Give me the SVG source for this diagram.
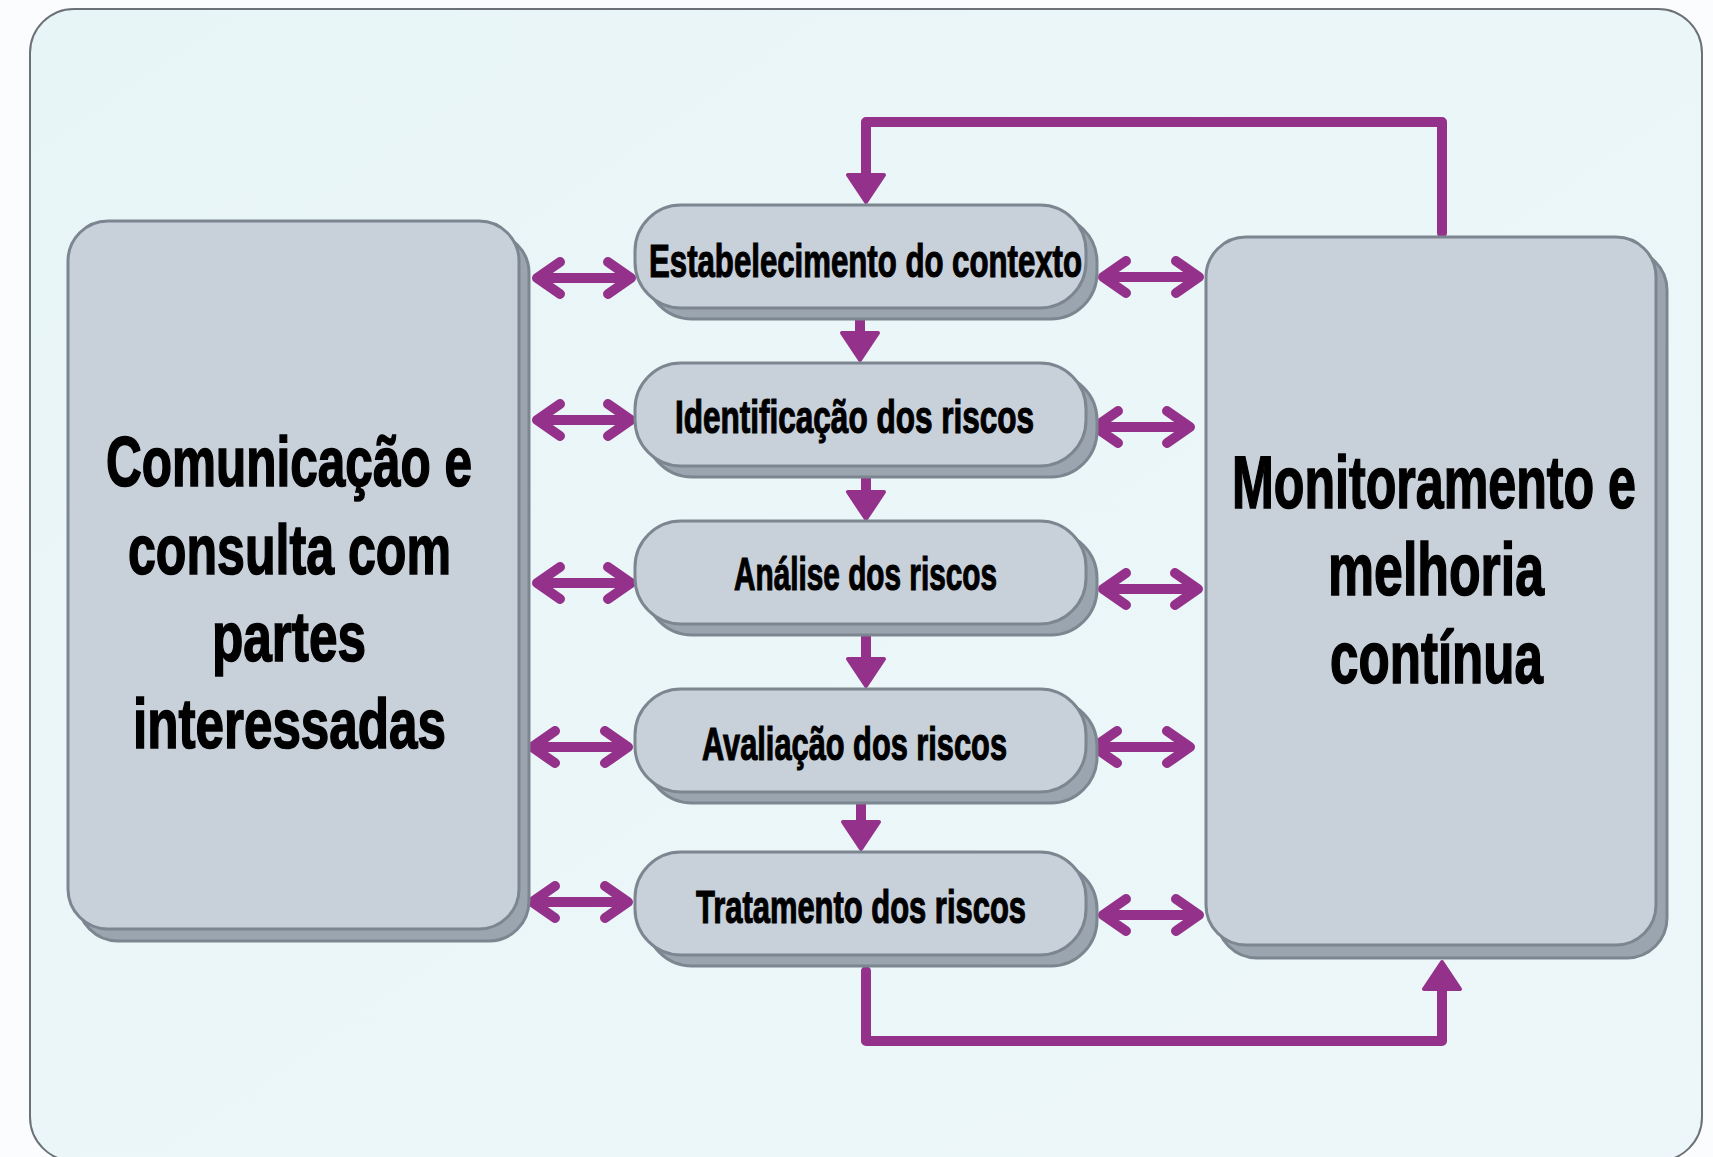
<svg xmlns="http://www.w3.org/2000/svg" width="1713" height="1157" viewBox="0 0 1713 1157">
<defs>
<linearGradient id="bg" x1="0" y1="0" x2="1" y2="1">
<stop offset="0" stop-color="#e8f5f7"/>
<stop offset="1" stop-color="#edf7f9"/>
</linearGradient>
<marker id="chev" viewBox="-30 -25 35 50" refX="0" refY="0" markerWidth="35" markerHeight="50" markerUnits="userSpaceOnUse" orient="auto-start-reverse" overflow="visible">
<path d="M-23,-16 L0,0 L-23,16" fill="none" stroke="#94318a" stroke-width="10" stroke-linecap="round" stroke-linejoin="round"/>
</marker>
<marker id="tri" viewBox="-2 -22 34 44" refX="0" refY="0" markerWidth="34" markerHeight="44" markerUnits="userSpaceOnUse" orient="auto" overflow="visible">
<path d="M0,-18 L27,0 L0,18 z" fill="#94318a" stroke="#94318a" stroke-width="4" stroke-linejoin="round"/>
</marker>
<style>
.front{fill:#c8d0da;stroke:#7c8690;stroke-width:3}
.shadow{fill:#9aa5b0;stroke:#7c8690;stroke-width:3}
.dbl{fill:none;stroke:#94318a;stroke-width:10;marker-start:url(#chev);marker-end:url(#chev)}
.flow{fill:none;stroke:#94318a;stroke-width:10;stroke-linejoin:round;stroke-linecap:round;marker-end:url(#tri)}
.down{fill:none;stroke:#94318a;stroke-width:10;marker-end:url(#tri)}
.t{font-family:"Liberation Sans Narrow","Liberation Sans",sans-serif;font-weight:bold;fill:#000;stroke:#000;stroke-width:1.2}
.ps{font-size:47px}
.big{font-size:70px;stroke-width:1.6}
.big2{font-size:74px;stroke-width:1.6}
</style>
</defs>
<rect x="0" y="0" width="1713" height="1157" fill="#fbfcfd"/>
<rect x="30" y="9" width="1672" height="1152" rx="44" fill="url(#bg)" stroke="#6b7177" stroke-width="2"/>

<g id="connectors">
<path class="flow" d="M1442,233 V122 H866 V175"/>
<path class="flow" d="M866,971 V1041 H1442 V989"/>
<path class="down" d="M860,300 V333"/>
<path class="down" d="M866,460 V492"/>
<path class="down" d="M866,620 V659"/>
<path class="down" d="M861,790 V822"/>
<path class="dbl" d="M537,278 H631"/>
<path class="dbl" d="M537,420 H631"/>
<path class="dbl" d="M537,583 H631"/>
<path class="dbl" d="M532,747 H628"/>
<path class="dbl" d="M532,902 H628"/>
<path class="dbl" d="M1103,277 H1199"/>
<path class="dbl" d="M1095,427 H1190"/>
<path class="dbl" d="M1103,589 H1198"/>
<path class="dbl" d="M1094,747 H1190"/>
<path class="dbl" d="M1103,915 H1199"/>
</g>

<g id="node-comunicacao">
<rect class="shadow" x="78" y="233" width="451" height="708" rx="40"/>
<rect class="front" x="68" y="221" width="451" height="708" rx="40"/>
<text class="t big" x="106" y="486" textLength="366" lengthAdjust="spacingAndGlyphs">Comunicação e</text>
<text class="t big" x="128" y="574" textLength="323" lengthAdjust="spacingAndGlyphs">consulta com</text>
<text class="t big" x="212" y="661" textLength="154" lengthAdjust="spacingAndGlyphs">partes</text>
<text class="t big" x="133" y="748" textLength="313" lengthAdjust="spacingAndGlyphs">interessadas</text>
</g>

<g id="node-monitoramento">
<rect class="shadow" x="1217" y="250" width="450" height="708" rx="40"/>
<rect class="front" x="1206" y="237" width="450" height="708" rx="40"/>
<text class="t big2" x="1232" y="508" textLength="404" lengthAdjust="spacingAndGlyphs">Monitoramento e</text>
<text class="t big2" x="1328" y="595" textLength="216" lengthAdjust="spacingAndGlyphs">melhoria</text>
<text class="t big2" x="1330" y="683" textLength="213" lengthAdjust="spacingAndGlyphs">contínua</text>
</g>

<g id="node-estabelecimento">
<rect class="shadow" x="646" y="216" width="451" height="103" rx="46"/>
<rect class="front" x="635" y="205" width="451" height="103" rx="46"/>
<text class="t ps" x="649" y="277" textLength="433" lengthAdjust="spacingAndGlyphs">Estabelecimento do contexto</text>
</g>

<g id="node-identificacao">
<rect class="shadow" x="646" y="374" width="451" height="103" rx="46"/>
<rect class="front" x="635" y="363" width="451" height="103" rx="46"/>
<text class="t ps" x="675" y="433" textLength="359" lengthAdjust="spacingAndGlyphs">Identificação dos riscos</text>
</g>

<g id="node-analise">
<rect class="shadow" x="646" y="532" width="451" height="103" rx="46"/>
<rect class="front" x="635" y="521" width="451" height="103" rx="46"/>
<text class="t ps" x="734" y="590" textLength="263" lengthAdjust="spacingAndGlyphs">Análise dos riscos</text>
</g>

<g id="node-avaliacao">
<rect class="shadow" x="646" y="700" width="451" height="103" rx="46"/>
<rect class="front" x="635" y="689" width="451" height="103" rx="46"/>
<text class="t ps" x="702" y="760" textLength="305" lengthAdjust="spacingAndGlyphs">Avaliação dos riscos</text>
</g>

<g id="node-tratamento">
<rect class="shadow" x="646" y="863" width="451" height="103" rx="46"/>
<rect class="front" x="635" y="852" width="451" height="103" rx="46"/>
<text class="t ps" x="696" y="923" textLength="330" lengthAdjust="spacingAndGlyphs">Tratamento dos riscos</text>
</g>
</svg>
